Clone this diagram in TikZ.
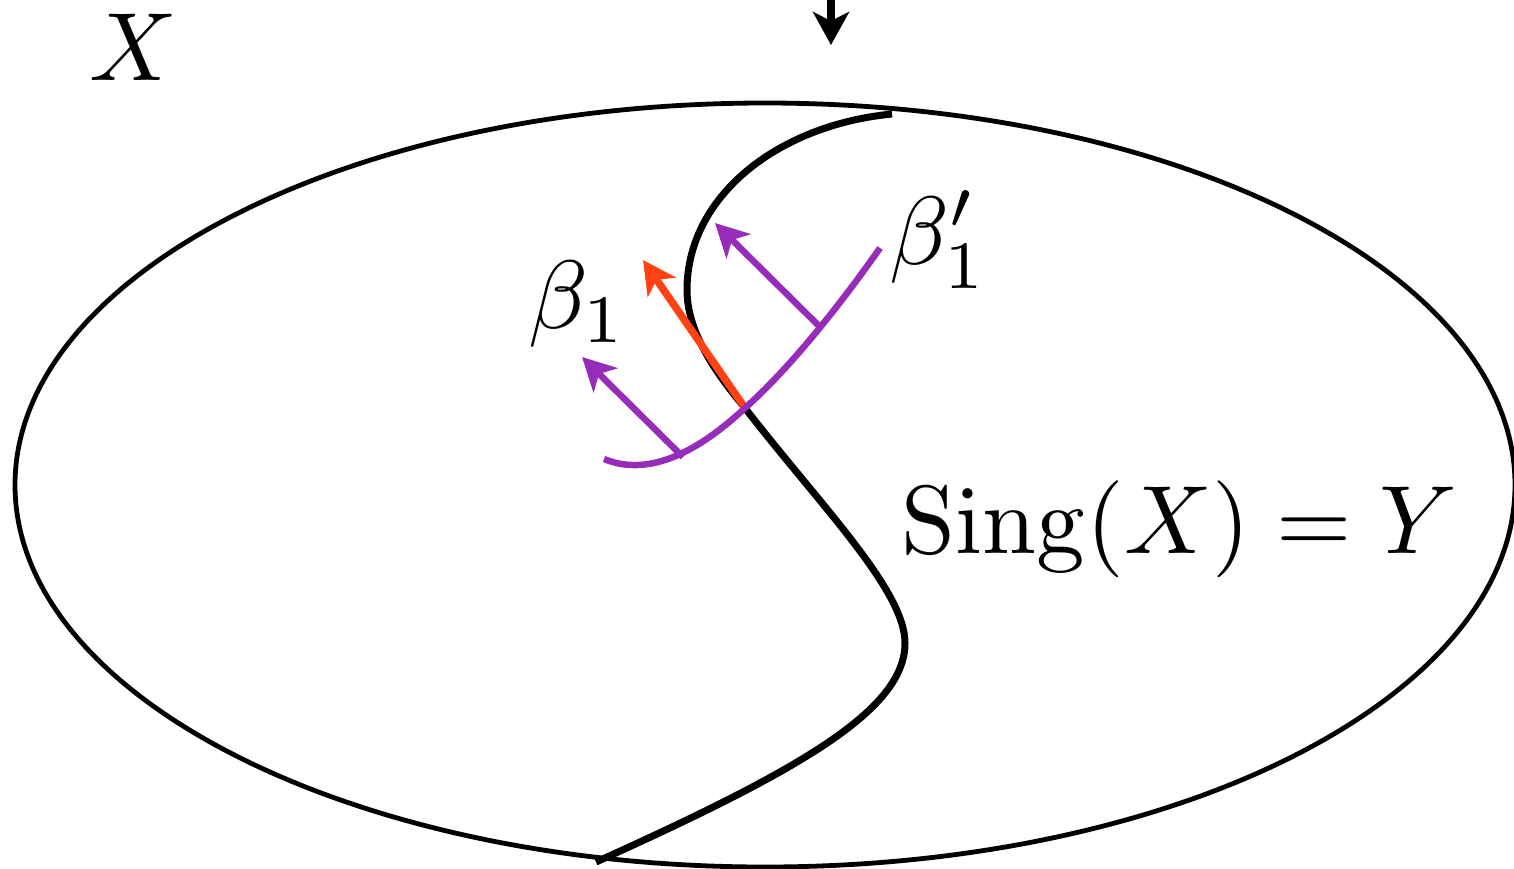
\documentclass[tikz,border=0pt]{standalone}
\usetikzlibrary{arrows.meta}
\definecolor{betapurple}{RGB}{152,44,186}
\definecolor{arrowred}{RGB}{255,65,20}
\begin{document}
\begin{tikzpicture}[x=1pt,y=-1pt,
  lbl/.style={inner sep=0pt, anchor=base west, scale=9.7},
  vtip/.style={-{Stealth[length=33pt,width=34pt,inset=9pt]}},
  singcurve/.style={line width=7pt},
  betacurve/.style={line width=6.5pt, color=betapurple},
]
\useasboundingbox (0,0) rectangle (1514,868);
\clip (0,0) rectangle (1514,868);
% the space X
\draw[line width=4.8pt] (765,485) ellipse [x radius=750, y radius=382];
% Sing(X) = Y
\coordinate (ytop) at (892,114);
\coordinate (yleft) at (687,290);
\coordinate (ycross) at (745,408);
\coordinate (yright) at (905,643);
\coordinate (ybot) at (596,862);
\draw[singcurve] (ytop) .. controls (778,125) and (687,196) .. (yleft)
  .. controls (687,330) and (713,370) .. (ycross)
  .. controls (820,505) and (905,590) .. (yright)
  .. controls (905,710) and (800,770) .. (ybot);
% top arrow
\coordinate (topstart) at (831,-10);
\coordinate (toptip) at (831,45);
\draw[line width=8pt, -{Stealth[length=33pt,width=36pt,inset=9pt]}] (topstart) -- (toptip);
% red arrow
\coordinate (redtip) at (643,260);
\draw[line width=7.5pt, color=arrowred, vtip] (ycross) -- (redtip);
% purple curve beta_1
\coordinate (bstart) at (604,459);
\coordinate (bend) at (880,248);
\coordinate (bbaseA) at (683,457);
\coordinate (btipA) at (582,357);
\coordinate (bbaseB) at (821,328);
\coordinate (btipB) at (715,223);
\draw[betacurve] (bstart) .. controls (650,478) and (700,450) .. (ycross)
  .. controls (790,368) and (840,305) .. (bend);
\draw[betacurve, vtip] (bbaseA) -- (btipA);
\draw[betacurve, vtip] (bbaseB) -- (btipB);
% labels
\node[lbl] (Xlabel) at (88,80) {$X$};
\node[lbl] (b1) at (527,328) {$\beta_1$};
\node[lbl] (b1p) at (888,264) {$\beta'_1$};
\node[lbl] (sing) at (900,553) {$\mathrm{Sing}(X) = Y$};
\end{tikzpicture}
\end{document}
